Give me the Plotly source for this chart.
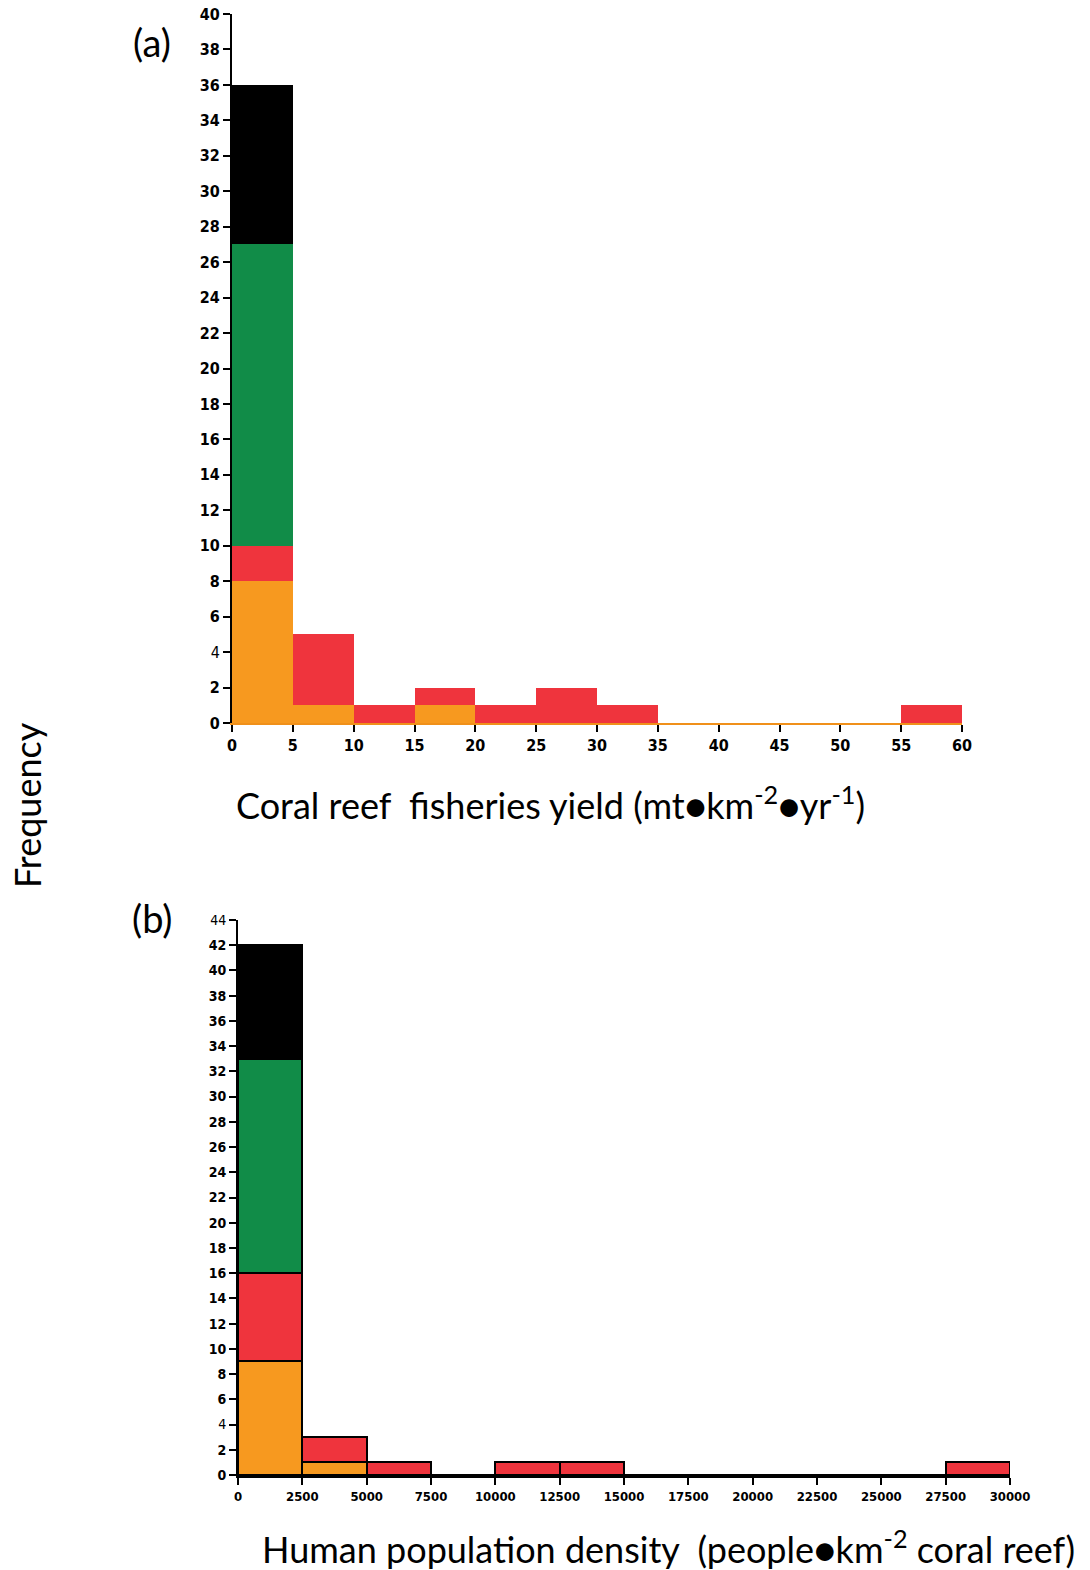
import plotly.graph_objects as go

# ---- Panel (a): coral reef fisheries yield, bins of 5 mt/km2/yr ----
yield_bin_edges = [0, 5, 10, 15, 20, 25, 30, 35, 40, 45, 50, 55, 60]
yield_orange = [8, 1, 0, 1, 0, 0, 0, 0, 0, 0, 0, 0]
yield_red    = [2, 4, 1, 1, 1, 2, 1, 0, 0, 0, 0, 1]
yield_green  = [17, 0, 0, 0, 0, 0, 0, 0, 0, 0, 0, 0]
yield_black  = [9, 0, 0, 0, 0, 0, 0, 0, 0, 0, 0, 0]
yield_xticks = [0, 5, 10, 15, 20, 25, 30, 35, 40, 45, 50, 55, 60]
yield_yticks = list(range(0, 41, 2))

# ---- Panel (b): human population density, bins of 2500 people/km2 ----
pop_bin_edges = [0, 2500, 5000, 7500, 10000, 12500, 15000, 17500,
                 20000, 22500, 25000, 27500, 30000]
pop_orange = [9, 1, 0, 0, 0, 0, 0, 0, 0, 0, 0, 0]
pop_red    = [7, 2, 1, 0, 1, 1, 0, 0, 0, 0, 0, 1]
pop_green  = [17, 0, 0, 0, 0, 0, 0, 0, 0, 0, 0, 0]
pop_black  = [9, 0, 0, 0, 0, 0, 0, 0, 0, 0, 0, 0]
pop_xticks = [0, 2500, 5000, 7500, 10000, 12500, 15000, 17500,
              20000, 22500, 25000, 27500, 30000]
pop_yticks = list(range(0, 45, 2))

COLORS = {"orange": "#F7991F", "red": "#EF343D", "green": "#118C48", "black": "#000000"}
W, H = 1090, 1570
TICK_FONT = "DejaVu Sans Condensed, Liberation Sans Narrow, sans-serif"
LABEL_FONT = "Lato, Open Sans, sans-serif"

fig = go.Figure()


def add_hist(edges, series, xa, ya, outline):
    centers = [(a + b) / 2 for a, b in zip(edges[:-1], edges[1:])]
    widths = [b - a for a, b in zip(edges[:-1], edges[1:])]
    for name, vals in series:
        fig.add_trace(go.Bar(
            x=centers, y=vals, width=widths, xaxis=xa, yaxis=ya,
            marker=dict(color=COLORS[name],
                        line=dict(color="black" if outline else COLORS[name],
                                  width=2 if outline else 0)),
            showlegend=False, hoverinfo="skip"))


add_hist(yield_bin_edges, [("orange", yield_orange), ("red", yield_red),
                           ("green", yield_green), ("black", yield_black)],
         "x", "y", False)
add_hist(pop_bin_edges, [("orange", pop_orange), ("red", pop_red),
                         ("green", pop_green), ("black", pop_black)],
         "x2", "y2", True)


def ytext(vals, thin):
    return [str(v) if v in thin else "<b>%d</b>" % v for v in vals]


def px_x(p):
    return p / W


def px_y(p):
    return 1 - p / H


common = dict(ticks="outside", ticklen=7, tickwidth=2, tickcolor="black",
              showgrid=False, zeroline=False, fixedrange=True, automargin=False,
              showline=True)

fig.update_layout(
    width=W, height=H, margin=dict(l=0, r=0, t=0, b=0, autoexpand=False),
    paper_bgcolor="white", plot_bgcolor="white",
    barmode="stack", bargap=0,
    xaxis=dict(domain=[px_x(232), px_x(962)], range=[0, 60], anchor="y",
               tickvals=yield_xticks, ticktext=["<b>%d</b>" % v for v in yield_xticks],
               tickfont=dict(family=TICK_FONT, size=16, color="black"),
               linecolor="#F0901A", linewidth=2, **common),
    yaxis=dict(domain=[px_y(723), px_y(14)], range=[0, 40], anchor="x",
               tickvals=yield_yticks, ticktext=ytext(yield_yticks, {4}),
               tickfont=dict(family=TICK_FONT, size=16, color="black"),
               linecolor="black", linewidth=2, **common),
    xaxis2=dict(domain=[px_x(238), px_x(1010)], range=[0, 30000], anchor="y2",
                tickvals=pop_xticks, ticktext=["<b>%d</b>" % v for v in pop_xticks],
                tickfont=dict(family=TICK_FONT, size=13, color="black"),
                linecolor="black", linewidth=3, **common),
    yaxis2=dict(domain=[px_y(1475), px_y(920)], range=[0, 44], anchor="x2",
                tickvals=pop_yticks, ticktext=ytext(pop_yticks, {4, 44}),
                tickfont=dict(family=TICK_FONT, size=14, color="black"),
                linecolor="black", linewidth=2, **common),
)

text_font = dict(family=LABEL_FONT, size=36, color="black")
annotations = [
    dict(text="(a)", x=px_x(152), y=px_y(42), font=dict(family=LABEL_FONT, size=38, color="black")),
    dict(text="(b)", x=px_x(152), y=px_y(918), font=dict(family=LABEL_FONT, size=38, color="black")),
    dict(text="Coral reef  fisheries yield (mt\u25cfkm<sup>-2</sup>\u25cfyr<sup>-1</sup>)",
         x=px_x(550), y=px_y(803), font=text_font),
    dict(text="Human population density  (people\u25cfkm<sup>-2</sup> coral reef)",
         x=px_x(668), y=px_y(1547), font=text_font),
    dict(text="Frequency", x=px_x(27), y=px_y(805), textangle=-90, font=text_font),
]
for a in annotations:
    fig.add_annotation(xref="paper", yref="paper", showarrow=False,
                       xanchor="center", yanchor="middle", **a)

fig.write_html("out.html")
